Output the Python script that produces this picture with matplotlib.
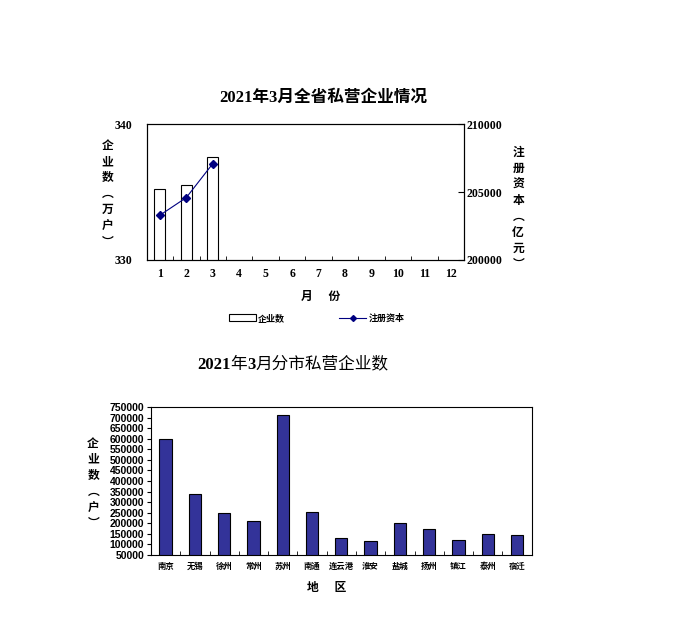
import matplotlib
matplotlib.use("Agg")
import matplotlib.pyplot as plt
from matplotlib.lines import Line2D
from matplotlib.patches import Patch

plt.rcParams['font.family'] = ['Liberation Serif', 'Noto Sans CJK SC', 'DejaVu Sans']

# top chart data
months = list(range(1, 13))
ent_months = [1, 2, 3]
ent_count = [335.2, 335.5, 337.6]        # 万户
capital = [203300, 204600, 207100]        # 亿元

# bottom chart data
cities = ['南京', '无锡', '徐州', '常州', '苏州', '南通', '连云港',
          '淮安', '盐城', '扬州', '镇江', '泰州', '宿迁']
city_count = [597000, 337000, 247000, 209000, 710600, 251800, 128800,
              114600, 199800, 171400, 119400, 147700, 143100]

CJK = ['Noto Sans CJK SC', 'DejaVu Sans']
SERIF = ['Liberation Serif', 'Noto Sans CJK SC']

fig = plt.figure(figsize=(6.8, 6.44), dpi=100)

# ---- top chart ----
ax1 = fig.add_axes([0.2157, 0.5963, 0.4666, 0.2107])
ax1.bar(ent_months, ent_count, width=0.42, color='white', edgecolor='black', linewidth=0.8)
ax1.set_xlim(0.5, 12.5)
ax1.set_ylim(330, 340)
ax1.set_yticks([330, 340])
ax1.set_yticklabels(['330', '340'], fontsize=8.5, fontweight='bold')
ax1.tick_params(axis='y', length=0, pad=10)
ax1.set_xticks(months)
ax1.set_xticklabels([str(m) for m in months], fontsize=8.5, fontweight='bold')
ax1.tick_params(axis='x', length=0, pad=6)
ax1.set_xticks([m + 0.5 for m in range(0, 13)], minor=True)
ax1.tick_params(axis='x', which='minor', direction='in', length=3)

ax2 = ax1.twinx()
ax2.plot(ent_months, capital, color='#000080', marker='D', markersize=4, linewidth=0.8)
ax2.set_ylim(200000, 210000)
ax2.set_yticks([200000, 205000, 210000])
ax2.set_yticklabels(['200000', '205000', '210000'], fontsize=8.5, fontweight='bold')
ax2.tick_params(axis='y', direction='in', length=4, pad=2)

fig.text(0.475, 0.848, '2021年3月全省私营企业情况', ha='center', va='center',
         fontsize=12, fontweight='bold', family=SERIF)
fig.text(0.158, 0.699, '\n'.join('企业数︵万户︶'), ha='center', va='center',
         fontsize=8.5, fontweight='bold', family=CJK, linespacing=1.3)
fig.text(0.762, 0.677, '\n'.join('注册资本︵亿元︶'), ha='center', va='center',
         fontsize=8.5, fontweight='bold', family=CJK, linespacing=1.3)
fig.text(0.471, 0.539, '月      份', ha='center', va='center',
         fontsize=8.5, fontweight='bold', family=CJK)

handles = [Patch(facecolor='white', edgecolor='black', linewidth=0.8),
           Line2D([0], [0], color='#000080', marker='D', markersize=3, linewidth=0.8)]
fig.legend(handles, ['企业数', '注册资本'], loc='center', bbox_to_anchor=(0.466, 0.506),
           ncol=2, frameon=False, prop={'family': CJK, 'size': 6.5, 'weight': 'bold'},
           handlelength=2.9, handleheight=0.7, columnspacing=6, handletextpad=0.3)

# ---- bottom chart ----
ax3 = fig.add_axes([0.222, 0.1382, 0.5599, 0.2298])
x = list(range(len(cities)))
ax3.bar(x, city_count, width=0.42, color='#333399', edgecolor='black', linewidth=0.8)
ax3.set_xlim(-0.5, len(cities) - 0.5)
ax3.set_ylim(50000, 750000)
yt = list(range(50000, 750001, 50000))
ax3.set_yticks(yt)
ax3.set_yticklabels([str(v) for v in yt], fontsize=7.5, fontweight='bold',
                    family=['Liberation Sans', 'DejaVu Sans'])
ax3.tick_params(axis='y', length=3, pad=2)
ax3.set_xticks(x)
ax3.set_xticklabels(cities, fontsize=6, fontweight='bold', family=CJK)
ax3.tick_params(axis='x', length=0, pad=5)
ax3.set_xticks([i - 0.5 for i in range(len(cities) + 1)], minor=True)
ax3.tick_params(axis='x', which='minor', direction='in', length=3)

# title: bold serif digits, regular Chinese, pieces chained left to right
parts = [('2021', 'bold'), ('年', 'normal'), ('3', 'bold'), ('月分市私营企业数', 'normal')]
anchor = fig.text(0.29, 0.434, parts[0][0], ha='left', va='center',
                  fontsize=12, fontweight=parts[0][1], family=SERIF)
for txt, w in parts[1:]:
    anchor = fig.add_artist(plt.Annotation(txt, xy=(1, 0.5), xycoords=anchor, va='center',
                                           ha='left', fontsize=12, fontweight=w, family=SERIF))

fig.text(0.137, 0.25, '\n'.join('企业数︵户︶'), ha='center', va='center',
         fontsize=8.5, fontweight='bold', family=CJK, linespacing=1.3)
fig.text(0.481, 0.087, '地      区', ha='center', va='center',
         fontsize=8.5, fontweight='bold', family=CJK)

fig.savefig('out.png', dpi=100)
